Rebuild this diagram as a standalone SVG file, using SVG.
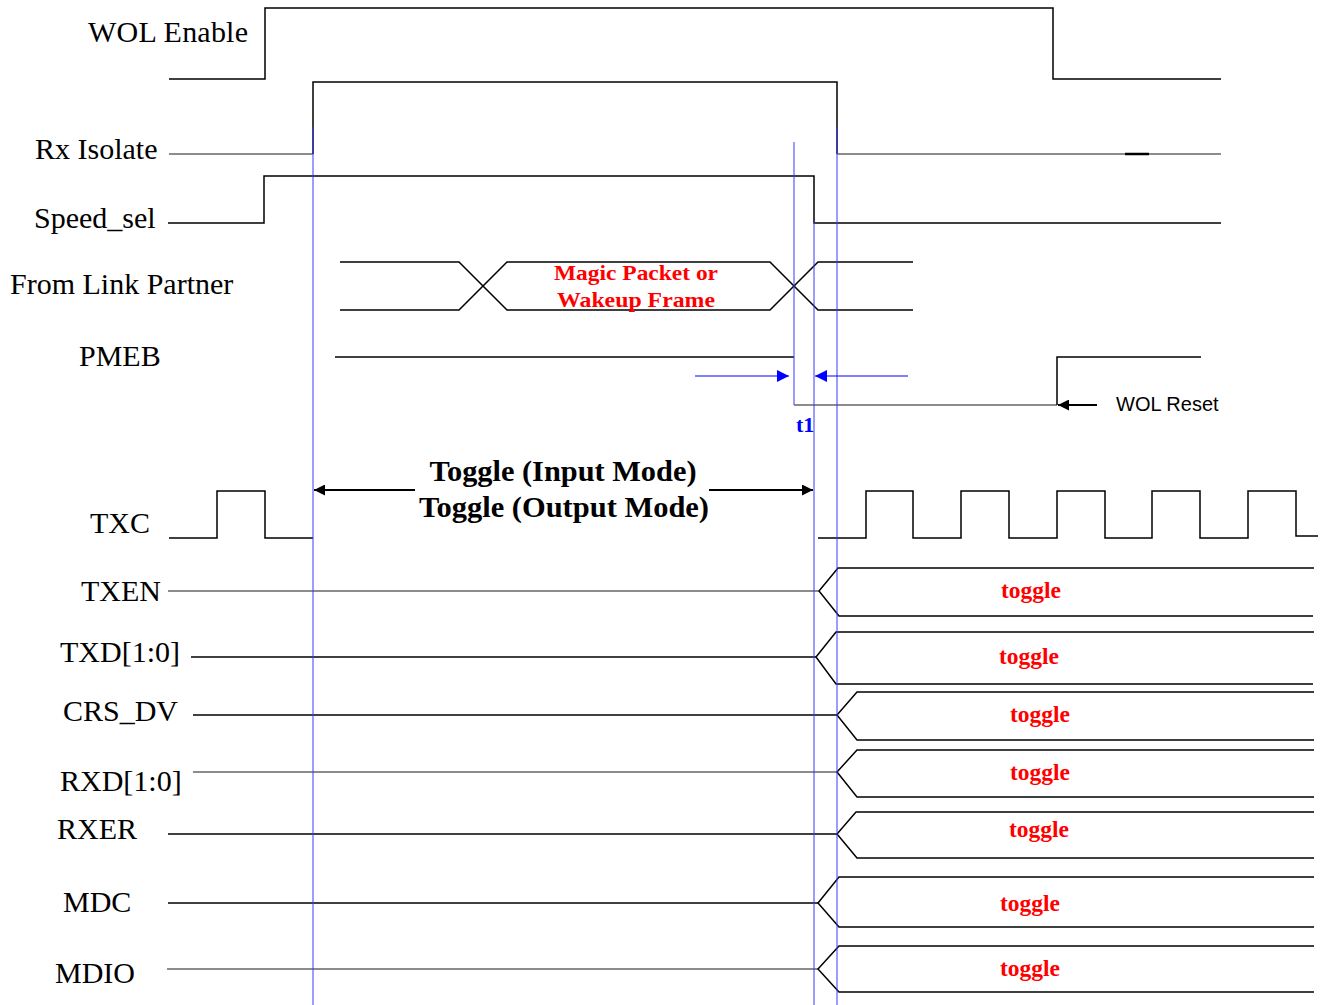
<svg xmlns="http://www.w3.org/2000/svg" width="1324" height="1005" viewBox="0 0 1324 1005">
<style>
.lbl{font-family:"Liberation Serif","Times New Roman",serif;font-size:30px;fill:#000}
.tog{font-family:"Liberation Serif","Times New Roman",serif;font-size:23px;font-weight:bold;fill:#ff0000;text-anchor:middle}
.mp{font-family:"Liberation Serif","Times New Roman",serif;font-size:22px;font-weight:bold;fill:#ff0000;text-anchor:middle}
.hdr{font-family:"Liberation Serif","Times New Roman",serif;font-size:30px;font-weight:bold;fill:#000;text-anchor:middle}
.sans{font-family:"Liberation Sans",Arial,sans-serif;font-size:20px;fill:#000}
.w{fill:none;stroke:#000;stroke-width:1.5}
.g{fill:none;stroke:#666;stroke-width:1.5}
.b{fill:none;stroke:#3a3aff;stroke-width:1}
</style>
<defs>
<marker id="ak" viewBox="0 0 10 10" refX="10" refY="5" markerWidth="19" markerHeight="11" markerUnits="userSpaceOnUse" orient="auto-start-reverse"><path d="M0,0 L10,5 L0,10 z" fill="#000"/></marker>
<marker id="ab" viewBox="0 0 10 10" refX="10" refY="5" markerWidth="17" markerHeight="12" markerUnits="userSpaceOnUse" orient="auto-start-reverse"><path d="M0,0 L10,5 L0,10 z" fill="#0000ff"/></marker>
</defs>
<rect width="1324" height="1005" fill="#fff"/>

<g id="wol-enable">
<text class="lbl" x="88" y="42" textLength="160">WOL Enable</text>
<path class="w" d="M169,79 L265,79 L265,8 L1053,8 L1053,79 L1221,79"/>
</g>

<g id="rx-isolate">
<text class="lbl" x="35" y="159">Rx Isolate</text>
<path class="g" d="M169,154 L313,154"/>
<path class="w" d="M313,154 L313,82 L837,82 L837,154"/>
<path class="g" d="M837,154 L1221,154"/>
<path d="M1125,154 L1149,154" stroke="#000" stroke-width="2.5"/>
</g>

<g id="speed-sel">
<text class="lbl" x="34" y="228">Speed_sel</text>
<path class="w" d="M168,223 L264,223 L264,176 L814,176 L814,223 L1221,223"/>
</g>

<g id="link-partner">
<text class="lbl" x="10" y="294">From Link Partner</text>
<path class="w" d="M340,262 L459,262 L507,310 L770,310 L818,262 L913,262"/>
<path class="w" d="M340,310 L459,310 L507,262 L770,262 L818,310 L913,310"/>
<text class="mp" x="636" y="280" textLength="164" lengthAdjust="spacingAndGlyphs">Magic Packet or</text>
<text class="mp" x="636" y="307" textLength="158" lengthAdjust="spacingAndGlyphs">Wakeup Frame</text>
</g>

<g id="pmeb">
<text class="lbl" x="79" y="366">PMEB</text>
<path class="w" d="M335,357 L794,357"/>
<path class="g" d="M794,405 L1057,405"/>
<path class="w" d="M1057,405 L1057,357 L1201,357"/>
</g>

<g id="wol-reset">
<text class="sans" x="1116" y="411">WOL Reset</text>
</g>

<g id="txc">
<text class="lbl" x="90" y="533">TXC</text>
<path class="w" d="M169,538 L217,538 L217,491 L265,491 L265,538 L313,538"/>
<path class="w" d="M818,538 L866,538 L866,491 L913,491 L913,538 L961,538 L961,491 L1009,491 L1009,538 L1057,538 L1057,491 L1105,491 L1105,538 L1152,538 L1152,491 L1200,491 L1200,538 L1248,538 L1248,491 L1296,491 L1296,536 L1318,536"/>
<text class="hdr" x="563" y="481" textLength="267" lengthAdjust="spacingAndGlyphs">Toggle (Input Mode)</text>
<text class="hdr" x="564" y="517" textLength="290" lengthAdjust="spacingAndGlyphs">Toggle (Output Mode)</text>
</g>

<g id="txen">
<text class="lbl" x="81" y="601">TXEN</text>
<path class="g" d="M168,591 L819,591"/>
<path class="w" d="M1314,568 L838,568 L819,591 L839,616 L1313,616"/>
<text class="tog" x="1031" y="598" textLength="60" lengthAdjust="spacingAndGlyphs">toggle</text>
</g>

<g id="txd">
<text class="lbl" x="60" y="662">TXD[1:0]</text>
<path class="w" d="M191,657 L816,657"/>
<path class="w" d="M1314,632 L836,632 L816,657 L836,684 L1313,684"/>
<text class="tog" x="1029" y="664" textLength="60" lengthAdjust="spacingAndGlyphs">toggle</text>
</g>

<g id="crs-dv">
<text class="lbl" x="63" y="721">CRS_DV</text>
<path class="w" d="M193,715 L837,715"/>
<path class="w" d="M1314,692 L857,692 L837,715 L857,740 L1314,740"/>
<text class="tog" x="1040" y="722" textLength="60" lengthAdjust="spacingAndGlyphs">toggle</text>
</g>

<g id="rxd">
<text class="lbl" x="60" y="791">RXD[1:0]</text>
<path class="g" d="M193,772 L837,772"/>
<path class="w" d="M1314,750 L857,750 L837,772 L857,797 L1314,797"/>
<text class="tog" x="1040" y="780" textLength="60" lengthAdjust="spacingAndGlyphs">toggle</text>
</g>

<g id="rxer">
<text class="lbl" x="57" y="839">RXER</text>
<path class="w" d="M168,834 L837,834"/>
<path class="w" d="M1314,812 L856,812 L837,834 L857,858 L1314,858"/>
<text class="tog" x="1039" y="837" textLength="60" lengthAdjust="spacingAndGlyphs">toggle</text>
</g>

<g id="mdc">
<text class="lbl" x="63" y="912">MDC</text>
<path class="w" d="M168,903 L818,903"/>
<path class="w" d="M1314,877 L839,877 L818,903 L839,927 L1314,927"/>
<text class="tog" x="1030" y="911" textLength="60" lengthAdjust="spacingAndGlyphs">toggle</text>
</g>

<g id="mdio">
<text class="lbl" x="55" y="983">MDIO</text>
<path class="g" d="M167,969 L818,969"/>
<path class="w" d="M1314,946 L839,946 L818,969 L839,992 L1314,992"/>
<text class="tog" x="1030" y="976" textLength="60" lengthAdjust="spacingAndGlyphs">toggle</text>
</g>

<g id="connectors">
<line class="b" x1="313" y1="127" x2="313" y2="1005"/>
<line class="b" x1="794" y1="142" x2="794" y2="405"/>
<line class="b" x1="814" y1="222" x2="814" y2="1005"/>
<line class="b" x1="837" y1="127" x2="837" y2="1005"/>
<line x1="695" y1="376" x2="789" y2="376" stroke="#0000ff" stroke-width="1" marker-end="url(#ab)"/>
<line x1="908" y1="376" x2="815" y2="376" stroke="#0000ff" stroke-width="1" marker-end="url(#ab)"/>
<text x="796" y="432" style="font-family:'Liberation Serif',serif;font-size:22px;font-weight:bold;fill:#0000ff">t1</text>
<line x1="415" y1="490" x2="314" y2="490" stroke="#000" stroke-width="2" marker-end="url(#ak)"/>
<line x1="709" y1="490" x2="813" y2="490" stroke="#000" stroke-width="2" marker-end="url(#ak)"/>
<line x1="1097" y1="405" x2="1058" y2="405" stroke="#000" stroke-width="2" marker-end="url(#ak)"/>
</g>
</svg>
